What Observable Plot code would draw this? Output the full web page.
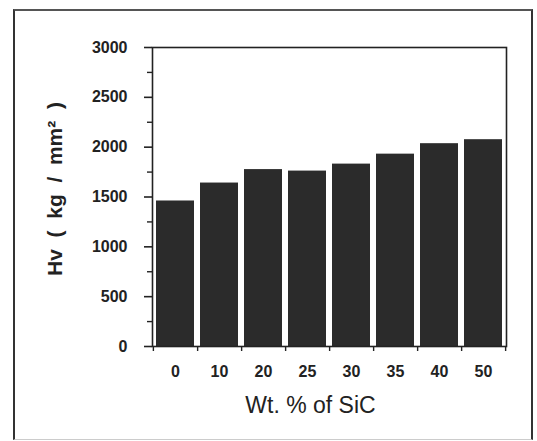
<!DOCTYPE html>
<html>
<head>
<meta charset="utf-8">
<script src="https://cdn.jsdelivr.net/npm/d3@7"></script>
<script src="https://cdn.jsdelivr.net/npm/@observablehq/plot@0.6"></script>
<style>
  html, body { margin: 0; padding: 0; background: #fff; }
  #wrap { position: relative; width: 537px; height: 441px; overflow: hidden; }
  #box { position: absolute; left: 13px; top: 9px; width: 520px; height: 431px;
         border-left: 2px solid #333; border-top: 2px solid #555; border-right: 2px solid #333;
         border-bottom: 1px solid #ccc; box-sizing: border-box; }
  #chart { position: absolute; left: 0; top: 0; }
  svg { font-family: "Liberation Sans", Arial, sans-serif; }
</style>
</head>
<body>
<div id="wrap"><div id="chart"></div><div id="box"></div></div>
<script>
const categories = ["0", "10", "20", "25", "30", "35", "40", "50"];
const hardness = [1460, 1640, 1775, 1760, 1830, 1930, 2035, 2075];
const yMajorTicks = [0, 500, 1000, 1500, 2000, 2500, 3000];
const yMinorTicks = [250, 750, 1250, 1750, 2250, 2750];
const xTitle = "Wt. % of SiC";
const yTitle = "Hv\u00a0 (\u00a0 kg\u00a0 /\u00a0 mm²\u00a0 )";

const data = categories.map((c, i) => ({wt: c, hv: hardness[i]}));

const W = 537, H = 441, mL = 152, mR = 31, mT = 47, mB = 95;
const step = (W - mL - mR) / categories.length;
const ink = "#222";

const chart = Plot.plot({
  width: W, height: H,
  marginLeft: mL, marginRight: mR, marginTop: mT, marginBottom: mB,
  style: {background: "transparent", color: ink},
  x: {domain: categories, paddingInner: 0.13, paddingOuter: 0.065, axis: null},
  y: {domain: [0, 3000], axis: null},
  marks: [
    Plot.barY(data, {x: "wt", y: "hv", fill: "#2b2b2b"}),
    Plot.frame({stroke: ink, strokeWidth: 1.6}),
    Plot.axisY({ticks: yMajorTicks, tickSize: 8, tickPadding: 17, strokeWidth: 1.6, label: null,
      tickFormat: d => String(d), fontSize: 16, fontWeight: "bold", fill: ink, style: "letter-spacing: 0.5px;"}),
    Plot.axisY({ticks: yMinorTicks, tickSize: 5, strokeWidth: 1.4, label: null, tickFormat: () => ""}),
    Plot.axisX({ticks: categories, tickSize: 5, strokeWidth: 1.4, dx: step / 2, label: null, tickFormat: () => ""}),
    Plot.axisX({ticks: [categories[0]], tickSize: 5, strokeWidth: 1.4, dx: -step / 2, label: null, tickFormat: () => ""}),
    Plot.axisX({ticks: categories, tickSize: 0, tickPadding: 19, fontSize: 16, fontWeight: "bold", fill: ink, label: null}),
    Plot.text([xTitle], {frameAnchor: "bottom", dy: 59, dx: -19, fontSize: 23, fill: ink, lineAnchor: "middle", textAnchor: "middle"}),
    Plot.text([yTitle], {frameAnchor: "left", rotate: -90, dx: -97, dy: -8, fontSize: 21, fontWeight: "bold",
      fill: ink, lineAnchor: "middle", textAnchor: "middle", style: "letter-spacing: 2px;"})
  ]
});
document.getElementById("chart").appendChild(chart);
</script>
</body>
</html>
